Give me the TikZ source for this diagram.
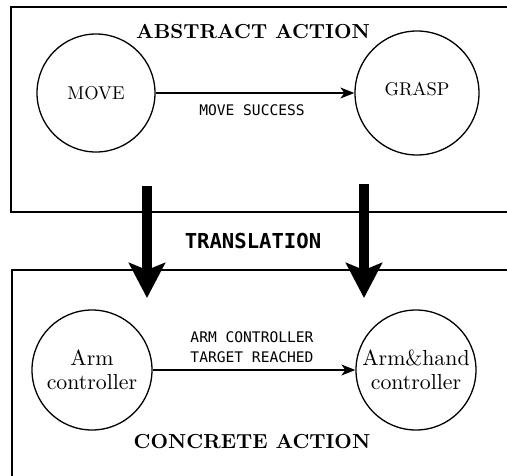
\documentclass[tikz,border=0pt]{standalone}
\usepackage{fontspec}
\usetikzlibrary{arrows.meta}
% text-size design of Latin Modern, used at every size
\setmainfont{lmroman10-regular}[Extension=.otf,BoldFont=lmroman10-bold]
\newfontfamily\labelmono{DejaVu Sans Mono}
\begin{document}
\begin{tikzpicture}[x=1pt,y=-1pt,
  frame/.style={line width=1.6pt},
  state/.style={circle,draw,line width=1.3pt,inner sep=0pt,minimum size=#1,align=center},
  statefont/.style={font=\fontsize{18.5}{20}\selectfont},
  ctrlfont/.style={font=\fontsize{21.8}{23.5}\selectfont},
  title/.style={font=\bfseries\fontsize{20.3}{22}\selectfont},
  edgelabel/.style={font=\labelmono\fontsize{14.6}{20}\selectfont,align=center,inner sep=0pt},
  transition/.style={line width=1.2pt,-{Stealth[length=14pt,width=11pt,inset=4pt]}},
  mapping/.style={line width=10pt,-{Stealth[length=35pt,width=36pt,inset=7pt]}}
]
\useasboundingbox (0,0) rectangle (507,475);
\clip (0,0) rectangle (507,475);

% abstract layer frame, open to the right
\draw[frame] (11,7) rectangle (530,212);
% concrete layer frame, open to the right and below
\draw[frame] (12,270) rectangle (530,500);

% abstract action
\node[title] (abs) at (253,32) {ABSTRACT ACTION};
\node[state=118pt,statefont] (move) at (96,93) {MOVE};
\node[state=124pt,statefont,text depth=8pt] (grasp) at (417,93) {GRASP};
\draw[transition] (move) -- (grasp);
\node[edgelabel] (succ) at (252,110) {MOVE SUCCESS};

% translation between the two layers
\coordinate (m1s) at (147,186);
\coordinate (m1e) at (147,298);
\coordinate (m2s) at (364,184);
\coordinate (m2e) at (364,298);
\draw[mapping] (m1s) -- (m1e);
\draw[mapping] (m2s) -- (m2e);
\node[font=\labelmono\bfseries\fontsize{20.6}{22}\selectfont] (trans) at (253,241) {TRANSLATION};

% concrete action
\node[state=120pt,ctrlfont] (arm) at (92,370) {Arm\\controller};
\node[state=120pt,ctrlfont] (armhand) at (416,370) {Arm\&hand\\controller};
\draw[transition] (arm) -- (armhand);
\node[edgelabel] (reached) at (252,347) {ARM CONTROLLER\\TARGET REACHED};
\node[title] (conc) at (252,442) {CONCRETE ACTION};
\end{tikzpicture}
\end{document}
